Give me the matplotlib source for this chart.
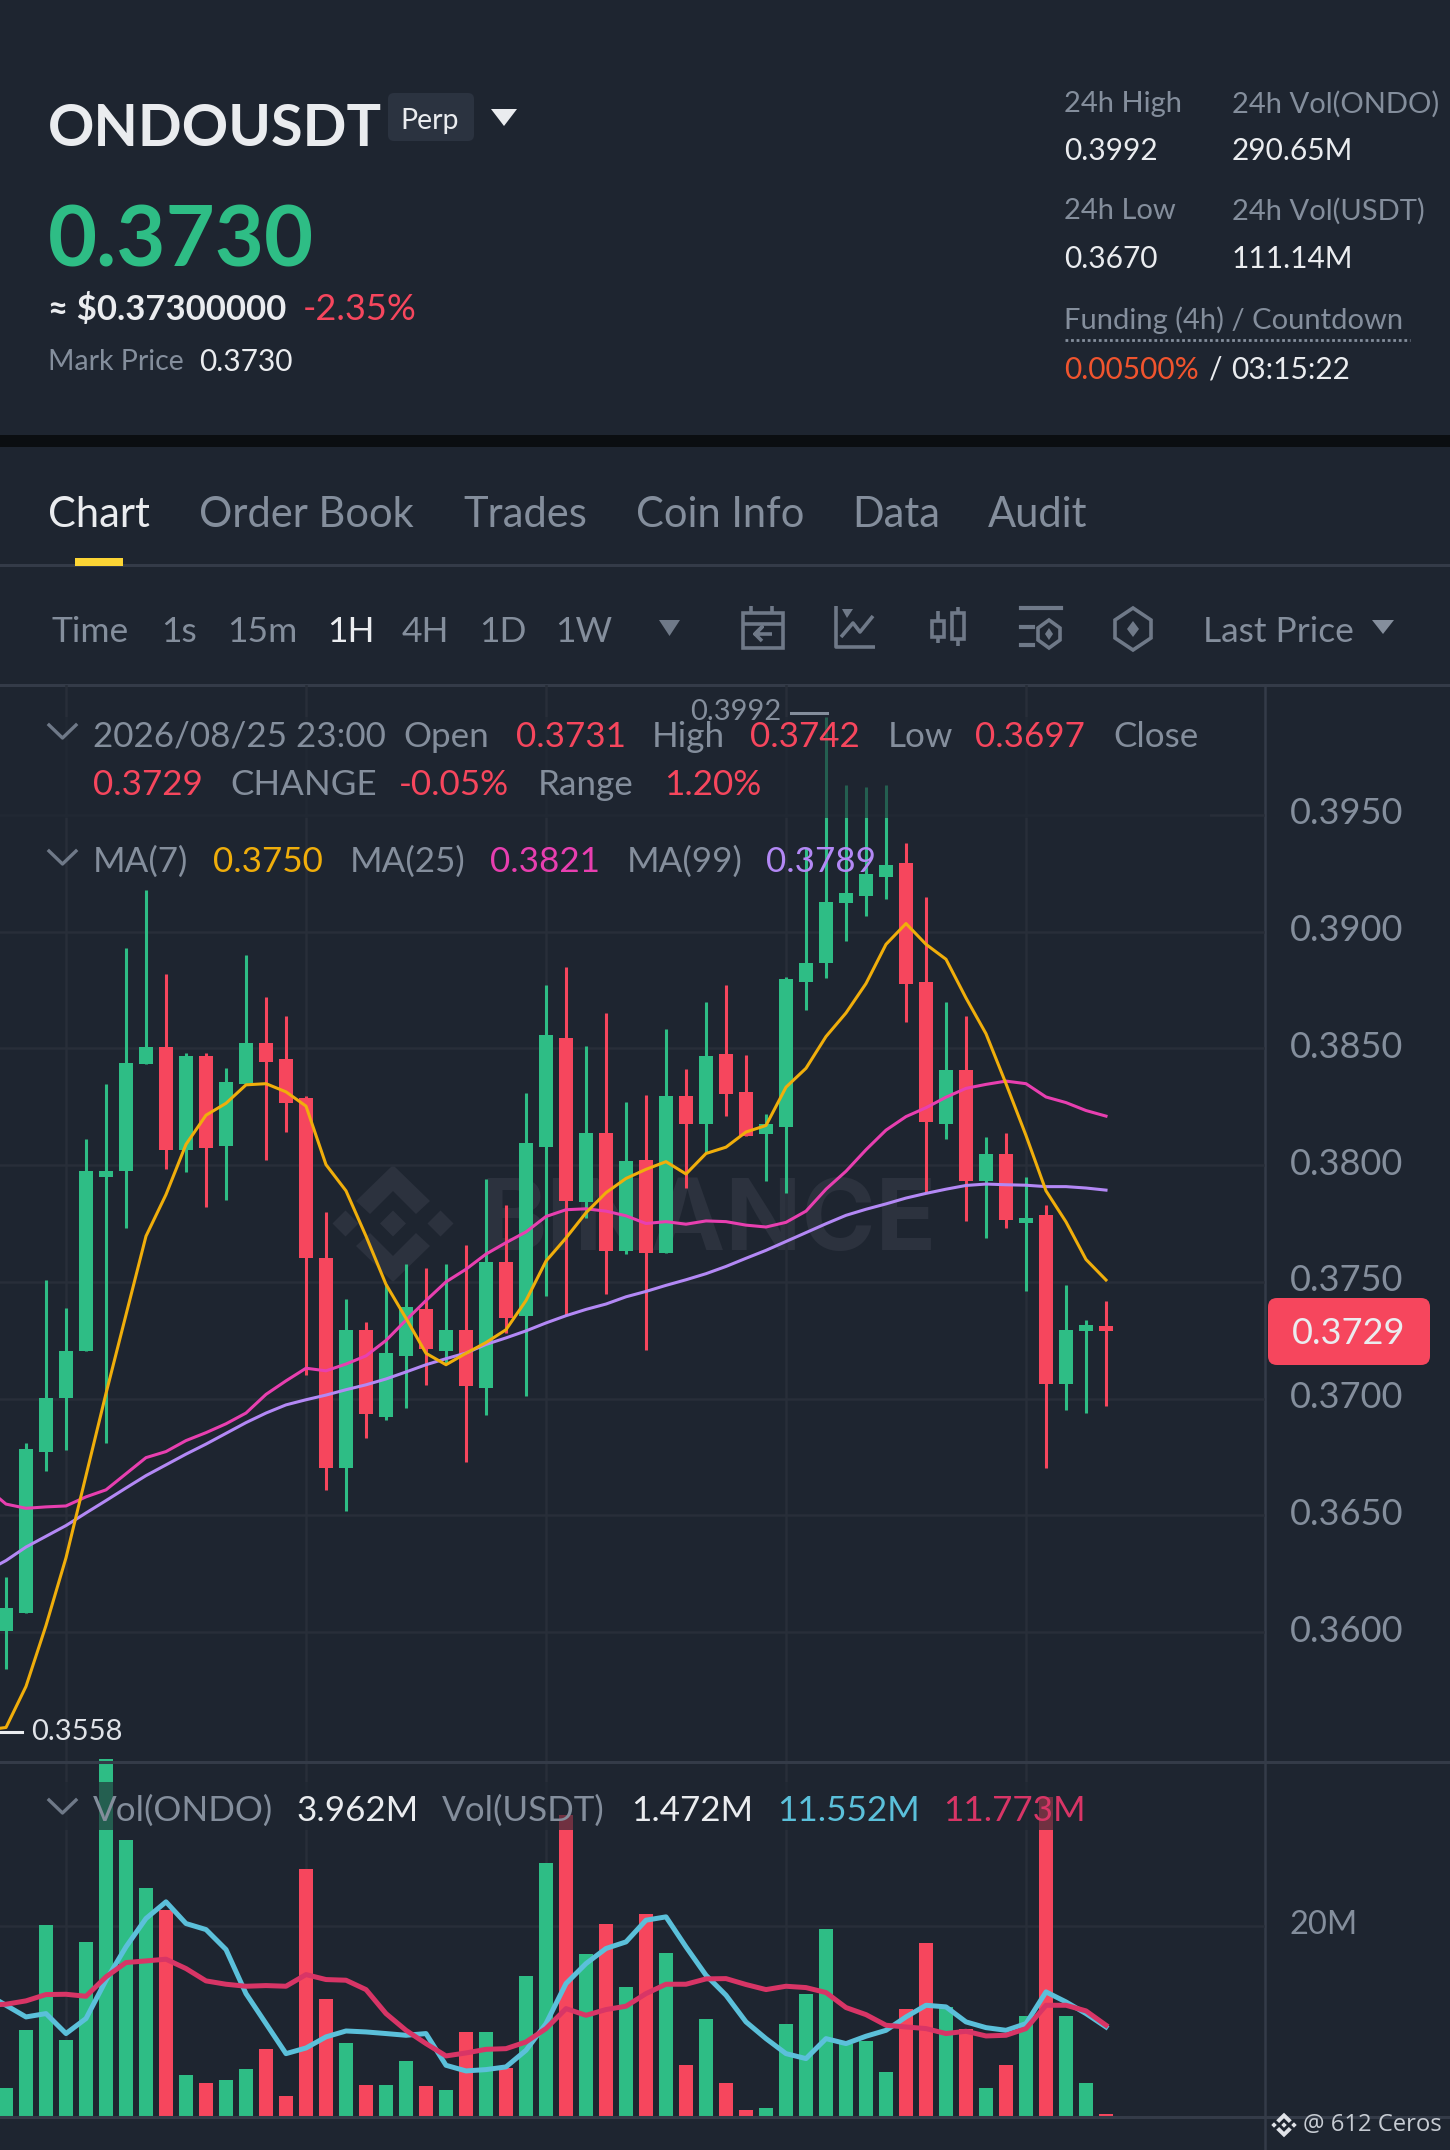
import matplotlib
matplotlib.use("Agg")
import matplotlib.pyplot as plt
from matplotlib.patches import Rectangle, FancyBboxPatch, Polygon, Circle

W, H = 1450, 2150
BG = "#1e2530"; GREEN = "#2ebd85"; RED = "#f6465d"; GRAY = "#848e9c"; WHITE = "#eaecef"
GRID = "#282e39"; SEP = "#343b48"; ICON = "#6f7988"

opens  = [.36005,.36081,.36773,.37004,.37203,.37951,.37974,.38433,.38505,.38064,.38467,.38084,.38346,.38525,
          .38456,.38288,.37604,.36704,.37295,.36923,.37183,.37385,.37203,.37295,.37044,.37584,.37352,.38077,
          .38546,.37844,.38138,.37632,.38024,.37624,.38295,.38175,.38476,.38315,.38135,.38165,.38785,.38865,
          .39125,.39154,.39234,.39296,.38785,.38175,.38406,.37933,.38046,.37752,.37785,.37062,.3729,.3731]
highs  = [.36237,.36808,.37509,.3739,.3811,.38349,.38931,.3918,.38819,.38479,.38479,.38418,.389,.38719,
          .3864,.38295,.37798,.37428,.37329,.37489,.37578,.37558,.37578,.37658,.3794,.37829,.38311,.3877,
          .38849,.3851,.3865,.38269,.383,.38582,.3841,.38701,.3877,.38471,.38219,.38808,.39359,.39918,
          .3963,.39619,.3963,.39381,.3915,.38698,.3864,.38119,.38139,.37948,.37829,.37488,.37336,.3742]
lows   = [.35841,.3608,.36689,.36781,.37203,.36811,.37732,.38433,.37982,.37969,.37821,.37852,.38346,.3802,
          .38142,.37102,.36609,.36517,.36831,.36908,.36961,.37059,.37153,.36729,.36931,.37283,.3701,.37439,
          .37356,.37772,.37448,.37619,.37209,.37624,.37902,.3805,.38211,.38124,.37931,.37882,.38663,.38801,
          .38961,.39068,.39142,.38612,.37887,.38112,.3776,.37688,.37732,.37459,.36701,.36949,.3694,.3697]
closes = [.36104,.36785,.37004,.37205,.37977,.37977,.38436,.38505,.38064,.38467,.38075,.38355,.38525,.38444,
          .38265,.37604,.36704,.37295,.36934,.37194,.37394,.37214,.37295,.37053,.37584,.37344,.38096,.38556,
          .37847,.38138,.37632,.38017,.37624,.38295,.38175,.38467,.38306,.38124,.38176,.38797,.38866,.39127,
          .39166,.39246,.39286,.38775,.38184,.38406,.37933,.38046,.37764,.37775,.37062,.37295,.37315,.3729]
# moving averages start one bar before the first visible candle
ma7  = [.3558,.35591,.35767,.36028,.36318,.3667,.37022,.37359,.37696,.37874,.38089,.38214,.38265,.38344,.38349,
        .38314,.38253,.38002,.3789,.37696,.37489,.37344,.37194,.37145,.37194,.3724,.37295,.3742,.37589,
        .37688,.37796,.37882,.37943,.37982,.38015,.37962,.3805,.38077,.38142,.3817,.38334,.38415,.38551,
        .38652,.38778,.38946,.39035,.38946,.38882,.38716,.38563,.38349,.38127,.3789,.37757,.37596,.37508]
ma25 = [.3662,.36548,.3653,.36536,.3654,.36579,.36609,.36678,.36747,.36773,.3682,.36854,.36892,.36938,.37018,
        .37076,.3713,.37119,.37148,.37183,.37249,.37336,.3742,.375,.37554,.37619,.37668,.37714,.3778,
        .37809,.37813,.37803,.37783,.3775,.37758,.37747,.37761,.37758,.37743,.37735,.37755,.37803,.37897,
        .37974,.38066,.3815,.38208,.38246,.38291,.38329,.38346,.3836,.38349,.38292,.38268,.38234,.3821]
ma99 = [.3626,.36306,.36364,.3641,.36456,.3651,.36563,.36617,.3667,.36716,.36762,.36805,.36851,.36897,.36938,
        .36973,.36995,.37015,.37038,.37059,.37084,.37114,.37145,.37171,.37195,.37232,.3726,.3729,.37324,
        .37355,.37382,.37405,.37436,.37459,.37485,.37509,.37535,.37566,.37601,.37635,.37673,.37711,.37749,
        .37785,.37811,.37834,.37859,.37879,.37897,.37913,.37919,.37916,.37914,.37908,.37908,.37902,.37893]
volumes = [3.07,9.08,20.14,8.1,18.36,37.42,29.0,23.98,21.64,4.36,3.56,3.84,5.03,7.09,2.2,25.9,12.39,7.78,3.39,3.32,
           5.86,3.28,2.79,8.94,8.9,5.13,14.73,26.53,31.6,17.1,20.21,13.65,21.22,17.21,5.45,10.23,3.53,0.77,0.98,
           9.7,12.91,19.72,7.68,7.92,4.71,11.27,18.22,11.52,9.25,3.07,5.48,10.61,33.51,10.58,3.53,0.31]
vol_ma1 = [12.9,11.69,10.47,10.82,8.73,10.3,14.31,17.8,20.77,22.51,20.24,19.61,17.52,12.91,9.77,6.63,7.22,8.38,9.0,8.9,
           8.73,8.55,8.73,5.41,4.82,4.96,5.24,6.98,9.77,13.96,16.05,17.63,18.32,20.59,20.94,17.8,14.83,12.74,9.95,8.2,
           6.63,6.11,8.2,7.68,8.45,9.07,10.47,11.69,11.52,9.95,9.35,9.07,9.77,13.09,12.04,10.82,9.42]
vol_ma2 = [11.7,11.8,12.15,12.81,12.84,12.63,14.66,16.16,16.33,16.51,15.53,14.24,13.89,13.68,13.75,13.68,14.9,14.38,14.31,13.33,
           10.82,9.07,7.68,6.39,6.7,7.08,7.15,7.85,9.25,11.34,10.64,11.24,11.59,12.91,13.89,13.89,14.45,14.48,13.86,13.33,
           13.68,13.54,13.02,11.45,10.71,9.6,9.42,9.25,8.73,8.97,8.48,8.55,9.25,11.69,11.69,11.1,9.6]
price_ticks = [.395,.39,.385,.38,.375,.37,.365,.36]
price_labels = ["0.3950","0.3900","0.3850","0.3800","0.3750","0.3700","0.3650","0.3600"]
time_grid = [3,15,27,39,51]

fig = plt.figure(figsize=(W/100, H/100), dpi=100, facecolor=BG)

def axes_px(x0, y0, x1, y1, z):
    a = fig.add_axes([x0/W, 1-y1/H, (x1-x0)/W, (y1-y0)/H], zorder=z)
    a.patch.set_visible(False)
    return a

back = axes_px(0, 0, W, H, 0); back.set_xlim(0, W); back.set_ylim(H, 0); back.axis("off")
ui = axes_px(0, 0, W, H, 5); ui.set_xlim(0, W); ui.set_ylim(H, 0); ui.axis("off")

FONT = "Lato"
def T(x, y, s, c=WHITE, size=22, weight="normal", fam=FONT, ha="left", ax=ui, **kw):
    return ax.text(x, y, s, color=c, fontsize=size, fontweight=weight, family=fam, ha=ha, va="center", **kw)

def logo(ax, cx, cy, s, color, z=1):
    d = 13*s
    for dx in (-47.5*s, 0, 47.5*s):
        ax.add_patch(Polygon([(cx+dx, cy-d), (cx+dx+d, cy), (cx+dx, cy+d), (cx+dx-d, cy)], fc=color, ec="none", zorder=z))
    for sg in (1, -1):
        pts = [(0,-58.5),(37,-22.5),(23,-9.5),(0,-32.5),(-23,-9.5),(-37,-22.5)]
        ax.add_patch(Polygon([(cx+s*a, cy+sg*s*b) for a, b in pts], fc=color, ec="none", zorder=z))

# page structure
back.add_patch(Rectangle((0, 435), W, 12, fc="#0b0e11", ec="none"))
for yy in (565, 685):
    back.plot([0, W], [yy, yy], color=SEP, lw=2.2)
back.add_patch(Rectangle((75, 558), 48, 8, fc="#fcd535", ec="none", zorder=3))
logo(back, 393, 1223.5, 1, "#2c323e")
T(480, 1224, "BINANCE", "#2c323e", 72, "bold", "Inter", ax=back)

# header
T(48, 129, "ONDOUSDT", WHITE, 41.5, "bold")
ui.add_patch(FancyBboxPatch((388, 93), 86, 48, boxstyle="round,pad=0,rounding_size=6", fc="#2b3340", ec="none"))
T(430, 121, "Perp", WHITE, 20.5, ha="center")
ui.add_patch(Polygon([(491, 109), (517, 109), (504, 126)], fc=WHITE, ec="none"))
T(48, 242, "0.3730", GREEN, 61, "bold")
T(48, 309, "≈ $0.37300000", WHITE, 25, "bold")
T(303, 309, "-2.35%", RED, 26)
T(48, 362, "Mark Price", GRAY, 20.5)
T(199, 362, "0.3730", WHITE, 21.5)
for top, val, lab2, val2, yy in [("24h High", "0.3992", "24h Vol(ONDO)", "290.65M", (104, 151)),
                                 ("24h Low", "0.3670", "24h Vol(USDT)", "111.14M", (211, 259))]:
    T(1064, yy[0], top, GRAY, 21)
    T(1064, yy[1], val, WHITE, 21.5)
    T(1232, yy[0], lab2, GRAY, 21)
    T(1232, yy[1], val2, WHITE, 21.5)
T(1064, 320, "Funding (4h) / Countdown", GRAY, 21)
ui.plot([1065, 1410], [340, 340], color=GRAY, lw=2, ls=(0, (1, 1)))
T(1064, 370, "0.00500%", "#f0542e", 21.5)
T(1209, 370, "/", WHITE, 21.5)
T(1231, 370, "03:15:22", WHITE, 21.5)

# tabs
for x, s, c in [(48, "Chart", WHITE), (199, "Order Book", GRAY), (463, "Trades", GRAY), (636, "Coin Info", GRAY),
                (852, "Data", GRAY), (988, "Audit", GRAY)]:
    T(x, 515, s, c, 30)

# toolbar
for x, s, c in [(52, "Time", GRAY), (161, "1s", GRAY), (227, "15m", GRAY), (327, "1H", WHITE), (402, "4H", GRAY),
                (479, "1D", GRAY), (555, "1W", GRAY), (1203, "Last Price", GRAY)]:
    T(x, 632, s, c, 25.5)
ui.add_patch(Polygon([(659, 620), (680, 620), (669.5, 636)], fc=ICON, ec="none"))
ui.add_patch(Polygon([(1372, 620), (1394, 620), (1383, 634)], fc=GRAY, ec="none"))
ic = dict(color=ICON, lw=2.6, solid_capstyle="butt")
ui.add_patch(Rectangle((743, 613), 40, 35, fc="none", ec=ICON, lw=2.6))
ui.plot([743, 783], [624, 624], **ic); ui.plot([751, 751], [606, 613], **ic); ui.plot([772, 772], [606, 613], **ic)
ui.plot([772, 755, 762, 755, 762], [634, 634, 627, 634, 641], **ic)
ui.plot([836, 836, 875], [606, 647, 647], **ic)
ui.plot([841, 853, 860, 873], [637, 623, 632, 616], **ic)
ui.add_patch(Polygon([(842, 609), (853, 609), (847, 618)], fc=ICON, ec="none"))
for xc, yt, yb, ws, we in [(938, 621, 637, 611, 643), (958, 613, 639, 607, 646)]:
    ui.add_patch(Rectangle((xc-6, yt), 12, yb-yt, fc="none", ec=ICON, lw=2.6))
    ui.plot([xc, xc], [ws, yt], **ic); ui.plot([xc, xc], [yb, we], **ic)
ui.plot([1021, 1061], [608, 608], color=ICON, lw=3)
ui.plot([1021, 1033], [627, 627], color=ICON, lw=3); ui.plot([1021, 1033], [645, 645], color=ICON, lw=3)
ui.add_patch(Polygon([(1049, 620), (1060, 628), (1060, 640), (1049, 648), (1038, 640), (1038, 628)], fc="none", ec=ICON, lw=2.6))
ui.add_patch(Polygon([(1049, 628), (1053, 634), (1049, 640), (1045, 634)], fc=ICON, ec="none"))
ui.add_patch(Polygon([(1133, 608), (1151, 620), (1151, 638), (1133, 650), (1115, 638), (1115, 620)], fc="none", ec=ICON, lw=2.6))
ui.add_patch(Polygon([(1133, 621), (1139, 629), (1133, 637), (1127, 629)], fc=ICON, ec="none"))

# price chart
XL = (-0.3, 62.95)
yscale = 23343.0
ax = axes_px(0, 685, 1265, 1762, 1)
ax.set_xlim(*XL)
ax.set_ylim(.395-(1762-815)/yscale, .395+(815-685)/yscale)
ax.set_yticks(price_ticks); ax.set_xticks(time_grid)
ax.tick_params(length=0, labelleft=False, labelbottom=False)
ax.grid(True, color=GRID, lw=1.8); ax.set_axisbelow(True)
for s in ax.spines.values():
    s.set_visible(False)
idx = list(range(56))
colors = [GREEN if c >= o else RED for o, c in zip(opens, closes)]
ax.vlines(idx, lows, highs, colors=colors, lw=2.2, zorder=2)
ax.bar(idx, [abs(c-o) for o, c in zip(opens, closes)], bottom=[min(o, c) for o, c in zip(opens, closes)],
       width=0.7, color=colors, zorder=3)
ma_x = list(range(-1, 56))
ax.plot(ma_x, ma99, color="#b388f5", lw=2.2, zorder=4)
ax.plot(ma_x, ma25, color="#e83fb0", lw=2.2, zorder=5)
ax.plot(ma_x, ma7, color="#f0ae0b", lw=2.2, zorder=6)

for t, lab in zip(price_ticks, price_labels):
    T(1290, 814+(.395-t)*yscale, lab, GRAY, 26)
ui.add_patch(FancyBboxPatch((1268, 1298), 162, 67, boxstyle="round,pad=0,rounding_size=9", fc=RED, ec="none"))
T(1349, 1333, "0.3729", WHITE, 26, ha="center")

# extreme marks
T(690, 712, "0.3992", GRAY, 21)
ui.plot([791, 827], [713, 713], color=GRAY, lw=2.2)
ui.plot([0, 22], [1732, 1732], color=WHITE, lw=2.2)
T(31, 1732, "0.3558", "#e0e3e8", 21)

# volume chart
vol = axes_px(0, 1762, 1265, 2117, 1)
vol.set_xlim(*XL); vol.set_ylim(0, (2116.7-1762)*20/191)
vol.set_yticks([20]); vol.set_xticks(time_grid)
vol.tick_params(length=0, labelleft=False, labelbottom=False)
vol.grid(True, color=GRID, lw=1.8); vol.set_axisbelow(True)
for s in vol.spines.values():
    s.set_visible(False)
vol.bar(idx, volumes, width=0.7, color=colors, zorder=2, clip_on=False)
vol.plot(ma_x, vol_ma1, color="#5bc0da", lw=3.6, zorder=3)
vol.plot(ma_x, vol_ma2, color="#d83566", lw=3.6, zorder=4)
T(1290, 1925, "20M", GRAY, 23.5)

# separators
for yy in (1762, 2117):
    ui.plot([0, W], [yy, yy], color=SEP, lw=2.2, zorder=0.5)
back.plot([1265, 1265], [685, H], color=SEP, lw=1.8)

# legend rows
ui.add_patch(Rectangle((0, 717), 1210, 101, fc=BG, alpha=0.62, ec="none", zorder=0.6))
ui.add_patch(Rectangle((0, 1782), 1095, 48, fc=BG, alpha=0.62, ec="none", zorder=0.6))
def chevron(y):
    ui.plot([49, 62.5, 76], [y-6, y+7, y-6], color=ICON, lw=2.4)
chevron(731); chevron(857); chevron(1806)
LS = 25.2
for x, y, s, c in [(93, 737, "2026/08/25 23:00", GRAY), (403, 737, "Open", GRAY), (516, 737, "0.3731", RED),
                   (652, 737, "High", GRAY), (750, 737, "0.3742", RED), (888, 737, "Low", GRAY), (975, 737, "0.3697", RED),
                   (1113, 737, "Close", GRAY), (93, 785, "0.3729", RED), (230, 785, "CHANGE", GRAY), (399, 785, "-0.05%", RED),
                   (538, 785, "Range", GRAY), (664, 785, "1.20%", RED), (93, 862, "MA(7)", GRAY), (213, 862, "0.3750", "#f0ae0b"),
                   (350, 862, "MA(25)", GRAY), (490, 862, "0.3821", "#e83fb0"), (627, 862, "MA(99)", GRAY),
                   (766, 862, "0.3789", "#b388f5"), (93, 1811, "Vol(ONDO)", GRAY), (296, 1811, "3.962M", WHITE),
                   (442, 1811, "Vol(USDT)", GRAY), (631, 1811, "1.472M", WHITE), (777, 1811, "11.552M", "#5bc0da"),
                   (943, 1811, "11.773M", "#d83566")]:
    T(x, y, s, c, LS)

# footer mark
logo(ui, 1284, 2125, 0.21, "#e0e3e8")
T(1303, 2125, "@ 612 Ceros", "#c7ccd3", 17.2, fam="Open Sans")

fig.savefig("out.png", dpi=100, facecolor=BG)
